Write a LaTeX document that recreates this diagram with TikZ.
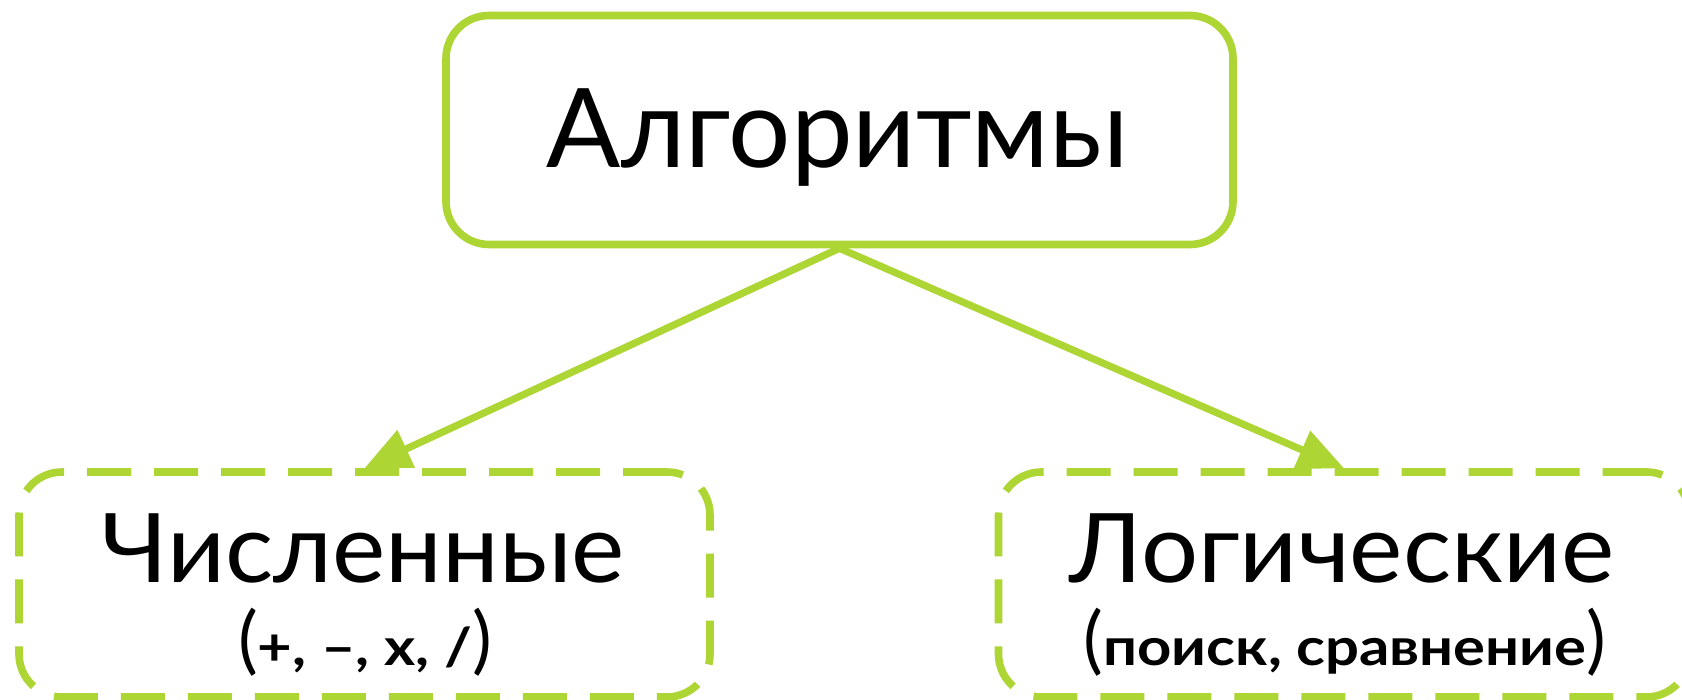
\documentclass[tikz,border=0pt]{standalone}
\usepackage{fontspec}
\setmainfont{Lato}
\newfontfamily\midfont[FakeStretch=1.05]{Lato}
\newfontfamily\smallfont[FakeStretch=1.15]{Lato}
\usetikzlibrary{arrows.meta}
\definecolor{lime}{RGB}{173,213,51}
\tikzset{
  solidbox/.style={draw=lime, line width=3.8pt, rounded corners=21.5pt, fill=white, inner sep=0pt},
  dashbox/.style={draw=lime, line width=3.8pt, rounded corners=21.5pt, dash pattern=on 22pt off 11.5pt, fill=white, inner sep=0pt, minimum width=345.5pt, minimum height=112.5pt},
  link/.style={draw=lime, line width=3.6pt, -{Triangle[length=23pt,width=20pt]}},
  bigtxt/.style={anchor=base, inner sep=0pt, font=\fontsize{55}{60}\selectfont},
  midtxt/.style={anchor=base, inner sep=0pt, font=\midfont\fontsize{48}{54}\selectfont},
  smalltxt/.style={anchor=base, inner sep=0pt, font=\fontsize{37}{42}\selectfont}
}
\newcommand{\inner}[1]{{\smallfont\bfseries\fontsize{26}{30}\selectfont #1}}
\begin{document}
\begin{tikzpicture}[x=0.5pt,y=-0.5pt]
\useasboundingbox[fill=white] (0,0) rectangle (1682,700);
\node[solidbox, minimum width=393.5pt, minimum height=114.5pt] (top) at (839.5,130) {};
\node[dashbox] (left) at (364.5,584.5) {};
\node[dashbox] (right) at (1344,584.5) {};
\draw[link] (top.south) -- (left.north);
\draw[link] (top.south) -- (right.north);
\node[bigtxt] (t1) at (837.5,168) {Алгоритмы};
\node[midtxt] (t2) at (363,582) {Численные};
\node[midtxt] (t3) at (1342,582) {Логические};
\node[smalltxt] (t4) at (365,665) {(\inner{+, –, x, /})};
\node[smalltxt] (t5) at (1345,665) {(\inner{поиск, сравнение})};
\end{tikzpicture}
\end{document}
